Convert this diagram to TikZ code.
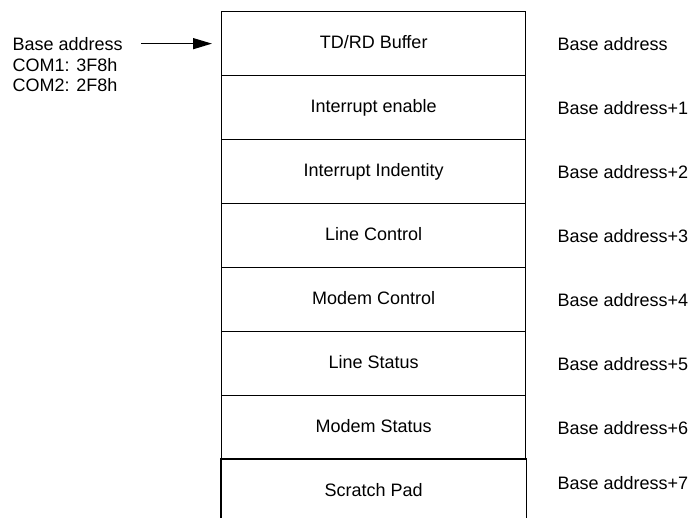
\documentclass[tikz,border=0pt]{standalone}
\usepackage{fontspec}
\setmainfont{Liberation Sans}
\usetikzlibrary{arrows.meta}
\begin{document}
\begin{tikzpicture}[x=1pt, y=-1pt, line width=1.3pt,
  font=\fontsize{18}{20}\selectfont,
  cell/.style={minimum width=304pt, minimum height=64pt, inner sep=0pt,
    text height=13pt, text depth=3pt, anchor=north west},
  framed/.style={cell, draw},
  addr/.style={anchor=base west, inner sep=0pt},
  pointer/.style={-{Triangle[length=19pt, width=11pt]}}]
\useasboundingbox (0,0) rectangle (694,518);

% register stack
\node[framed] (r1) at (221,11)  {TD/RD Buffer};
\node[framed] (r2) at (221,75)  {Interrupt enable};
\node[framed] (r3) at (221,139) {Interrupt Indentity};
\node[framed] (r4) at (221,203) {Line Control};
\node[framed] (r5) at (221,267) {Modem Control};
\node[framed] (r6) at (221,331) {Line Status};
\node[framed] (r7) at (221,395) {Modem Status};
\node[cell]   (r8) at (221,459) {Scratch Pad};
\draw (r8.south west) -- (r8.north west) -- (r8.north east) -- (r8.south east);

% register offsets
\node[addr] (a1) at (557,51)  {Base address};
\node[addr] (a2) at (557,115) {Base address+1};
\node[addr] (a3) at (557,179) {Base address+2};
\node[addr] (a4) at (557,243) {Base address+3};
\node[addr] (a5) at (557,307) {Base address+4};
\node[addr] (a6) at (557,371) {Base address+5};
\node[addr] (a7) at (557,435) {Base address+6};
\node[addr] (a8) at (557,490) {Base address+7};

% base address legend
\node[addr] (b1) at (12,51)   {Base address};
\node[addr] (b2) at (12,71.5) {COM1: 3F8h};
\node[addr] (b3) at (12,92)   {COM2: 2F8h};
\draw[pointer] ([xshift=18pt]b1.east |- r1.west) -- ([xshift=-9pt]r1.west);
\end{tikzpicture}
\end{document}
